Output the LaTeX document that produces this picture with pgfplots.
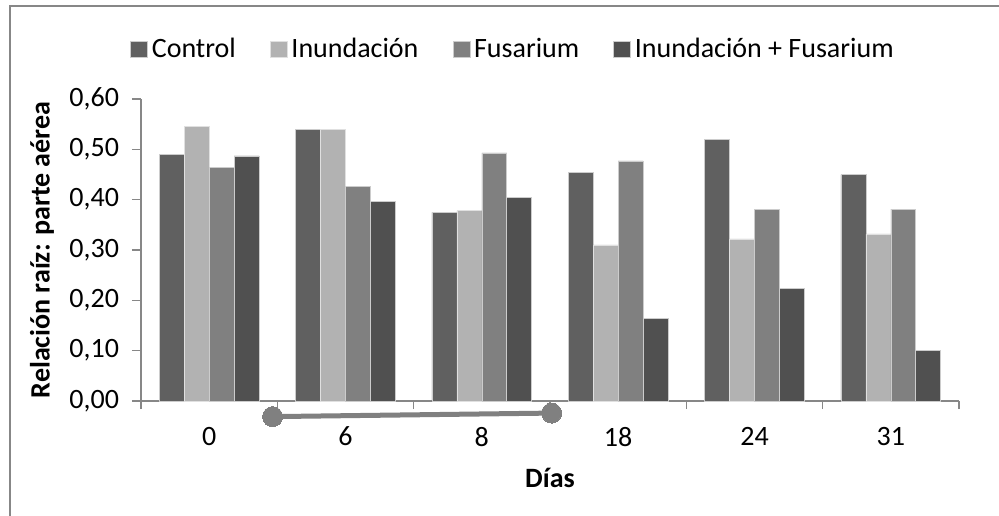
\documentclass[border=0pt]{standalone}
\usepackage{fontspec}
\setmainfont{Carlito}
\usepackage{pgfplots}
\pgfplotsset{compat=1.18}
\definecolor{cControl}{HTML}{606060}
\definecolor{cInund}{HTML}{B2B2B2}
\definecolor{cFus}{HTML}{808080}
\definecolor{cIF}{HTML}{505050}
\definecolor{axgray}{HTML}{878787}
\begin{document}
\begin{tikzpicture}
\begin{axis}[
  at={(0,0)}, anchor=south west,
  scale only axis, width=409pt, height=151pt,
  xmin=-0.5, xmax=5.5, ymin=0, ymax=0.6,
  clip=false,
  axis x line=bottom, axis y line=left,
  axis line style={-, draw=axgray, line width=0.75pt},
  tick align=outside,
  xtick={0,1,2,3,4,5},
  xticklabels={0,6,8,18,24,31},
  major x tick style={draw=none},
  minor xtick={-0.5,0.5,1.5,2.5,3.5,4.5,5.5},
  minor x tick style={draw=axgray, line width=0.75pt},
  minor tick length=4pt,
  ytick={0,0.1,0.2,0.3,0.4,0.5,0.6},
  y tick style={draw=axgray, line width=0.75pt},
  major tick length=4.5pt,
  /pgf/number format/assume math mode=true,
  ticklabel style={font=\fontsize{14}{16}\selectfont},
  yticklabel style={xshift=-3pt, /pgf/number format/fixed, /pgf/number format/fixed zerofill, /pgf/number format/precision=2, /pgf/number format/use comma},
  xticklabel style={yshift=-5pt},
  xlabel={\textbf{Días}},
  ylabel={\textbf{Relación raíz: parte aérea}},
  label style={font=\fontsize{14}{16}\selectfont},
  xlabel style={at={(axis description cs:0.5,-0.255)}, anchor=center},
  ylabel style={at={(axis description cs:-0.121,0.5)}, anchor=center},
  legend columns=4,
  legend style={draw=none, fill=none, at={(-0.021,1.166)}, anchor=west,
    font=\fontsize{14}{16}\selectfont,
    /tikz/every even column/.append style={column sep=15pt}},
  legend cell align=left,
  legend image code/.code={\fill[#1] (0pt,-4pt) rectangle (8.5pt,4pt);},
]
\addplot[ybar, bar width=0.183, bar shift=-0.2745, fill=cControl, draw=black!20, line width=0.3pt]
  coordinates {(0,0.490) (1,0.540) (2,0.375) (3,0.454) (4,0.520) (5,0.450)};
\addlegendentry{Control}
\addplot[ybar, bar width=0.183, bar shift=-0.0915, fill=cInund, draw=black!12, line width=0.3pt]
  coordinates {(0,0.545) (1,0.540) (2,0.378) (3,0.310) (4,0.322) (5,0.332)};
\addlegendentry{Inundación}
\addplot[ybar, bar width=0.183, bar shift=0.0915, fill=cFus, draw=black!20, line width=0.3pt]
  coordinates {(0,0.464) (1,0.427) (2,0.493) (3,0.477) (4,0.381) (5,0.381)};
\addlegendentry{Fusarium}
\addplot[ybar, bar width=0.183, bar shift=0.2745, fill=cIF, draw=black!20, line width=0.3pt]
  coordinates {(0,0.487) (1,0.397) (2,0.405) (3,0.164) (4,0.223) (5,0.101)};
\addlegendentry{Inundación + Fusarium}
\addplot[sharp plot, forget plot, draw=cFus, line width=2.5pt, mark=*, mark size=5pt,
  mark options={fill=cFus, draw=cFus, line width=0pt}]
  coordinates {(0.465,-0.031) (2.512,-0.024)};
\end{axis}
\draw[axgray, line width=0.75pt] (-65.5pt,-60pt) -- (-65.5pt,197.5pt) -- (432pt,197.5pt);
\pgfresetboundingbox
\path[use as bounding box] (-70.5pt,-57pt) rectangle (429pt,200.5pt);
\end{tikzpicture}
\end{document}
